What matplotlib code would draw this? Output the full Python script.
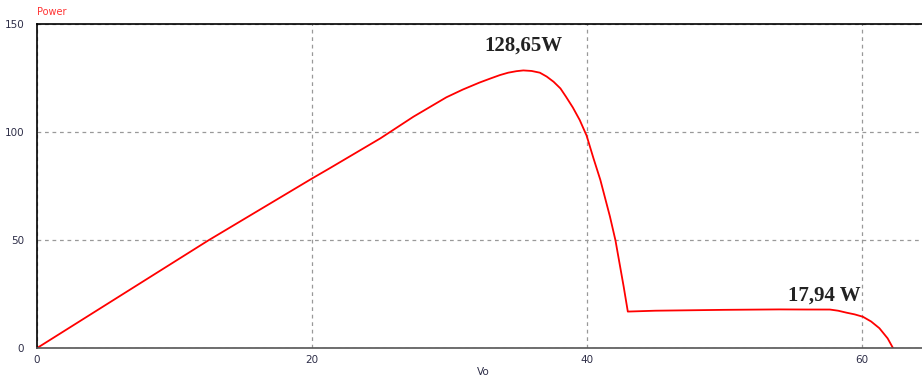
import matplotlib.pyplot as plt

# PV curve
vo = [0, 5, 10, 12.5, 15, 20, 21.3, 25, 27.4, 29.8, 31.0, 32.2, 33.0, 33.7, 34.3, 34.9, 35.4,
      36.0, 36.6, 37.1, 37.6, 38.1, 38.5, 39.0, 39.5, 40.0, 40.5, 41.0, 41.7, 42.1, 42.7, 43.0,
      45, 50, 54, 56, 57.7, 58.3, 58.9, 59.5, 60.1, 60.7, 61.3, 61.9, 62.3]
power = [0, 20, 40, 50, 59.5, 78.5, 83.3, 97.2, 107.2, 116.2, 119.8, 123, 124.9, 126.5, 127.6, 128.3, 128.65,
         128.4, 127.6, 125.8, 123.4, 120.3, 116.5, 111.5, 105.7, 98.5, 88, 78, 61, 50, 28.5, 17.0,
         17.4, 17.8, 18.0, 17.95, 17.94, 17.4, 16.5, 15.7, 14.6, 12.4, 9.3, 4.6, 0]

x_ticks = [0, 20, 40, 60]
y_ticks = [0, 50, 100, 150]
peak_labels = ['128,65W', '17,94 W']
peak_pos = [(35.4, 135.3), (57.3, 19.6)]

fig = plt.figure(figsize=(9.22, 3.78), dpi=100)
ax = fig.add_axes([0.0398, 0.0786, 0.9602, 0.8571])

ax.plot(vo, power, color='#ff0000', lw=1.3)

ax.set_xlim(0, 64.4)
ax.set_ylim(0, 150)
ax.set_xticks(x_ticks)
ax.set_yticks(y_ticks)
ax.tick_params(length=0, labelsize=7.5, labelcolor='#2e2e48')
ax.tick_params(axis='y', pad=9)
ax.tick_params(axis='x', pad=5)
ax.grid(True, color='#999999', ls=(0, (3, 3)), lw=0.9)

ax.spines['right'].set_visible(False)
ax.spines['top'].set_color('black')
ax.spines['left'].set_color('black')
ax.spines['bottom'].set_color('#555555')
for s in ['top', 'left', 'bottom']:
    ax.spines[s].set_linewidth(1.2)

for lab, (x, y) in zip(peak_labels, peak_pos):
    ax.text(x, y, lab, family='Liberation Serif', weight='bold', fontsize=15,
            color='#222222', ha='center', va='bottom')

fig.text(0.0398, 0.968, 'Power', color='#ff3333', fontsize=7, ha='left', va='center')
fig.text(0.524, 0.002, 'Vo', color='#2e2e48', fontsize=7.5, ha='center', va='bottom')

fig.savefig('out.png', dpi=100)
